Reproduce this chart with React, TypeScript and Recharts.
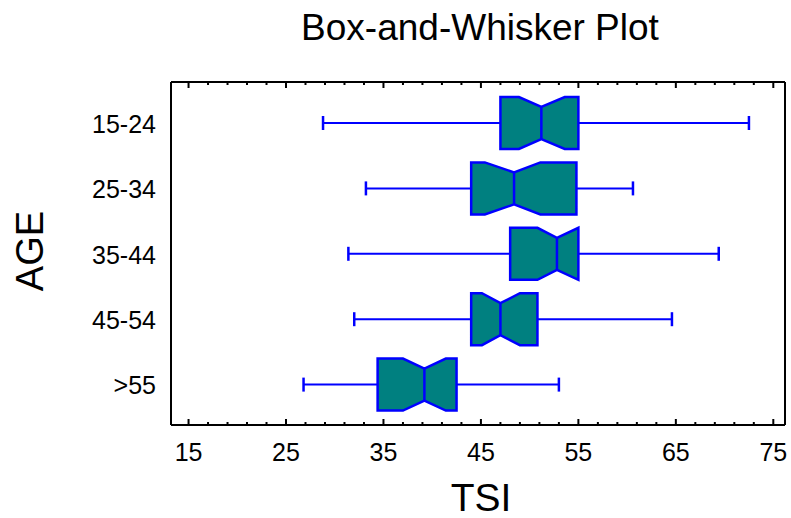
import { ComposedChart, Bar, XAxis, YAxis } from "recharts";

// TSI distribution per age group
const ages = ["15-24", "25-34", "35-44", "45-54", ">55"];
const whiskerLow = [28.8, 33.2, 31.4, 32.0, 26.8];
const q1 = [47.0, 44.0, 48.0, 44.0, 34.4];
const notchLow = [48.9, 45.4, 50.8, 45.1, 37.0];
const median = [51.2, 48.4, 52.8, 47.0, 39.2];
const notchHigh = [53.6, 51.1, 55.0, 49.0, 41.4];
const q3 = [55.0, 54.8, 55.0, 50.8, 42.5];
const whiskerHigh = [72.5, 60.6, 69.4, 64.6, 53.0];

const majorTicks = [15, 25, 35, 45, 55, 65, 75];
const minorTicks = [
  17, 19, 21, 23, 27, 29, 31, 33, 37, 39, 41, 43, 47, 49, 51, 53, 57, 59, 61,
  63, 67, 69, 71, 73,
];
const allTicks = [...majorTicks, ...minorTicks].sort((a, b) => a - b);

const data = ages.map((age, i) => ({
  age,
  lo: whiskerLow[i],
  q1: q1[i],
  nLo: notchLow[i],
  med: median[i],
  nHi: notchHigh[i],
  q3: q3[i],
  hi: whiskerHigh[i],
}));

const FONT = '"Liberation Sans", Arial, sans-serif';
const BLUE = "#0000FF";
const TEAL = "#008080";
const W = 791;
const H = 518;

// the bar spans the whisker range, so its x/width give the axis scale
function BoxShape(props: any) {
  const { x, y, width, height, payload } = props;
  const s = width / (payload.hi - payload.lo);
  const px = (v: number) => x + (v - payload.lo) * s;
  const cy = y + height / 2;
  const half = 26;
  const notch = 10;
  const cap = 7;
  const top = cy - half;
  const bot = cy + half;
  const pts = [
    [px(payload.q1), top],
    [px(payload.nLo), top],
    [px(payload.med), top + notch],
    [px(payload.nHi), top],
    [px(payload.q3), top],
    [px(payload.q3), bot],
    [px(payload.nHi), bot],
    [px(payload.med), bot - notch],
    [px(payload.nLo), bot],
    [px(payload.q1), bot],
  ]
    .map((p) => p.join(","))
    .join(" ");
  return (
    <g>
      <line x1={px(payload.lo)} x2={px(payload.q1)} y1={cy} y2={cy} stroke={BLUE} strokeWidth={2} />
      <line x1={px(payload.q3)} x2={px(payload.hi)} y1={cy} y2={cy} stroke={BLUE} strokeWidth={2} />
      <line x1={px(payload.lo)} x2={px(payload.lo)} y1={cy - cap} y2={cy + cap} stroke={BLUE} strokeWidth={2.5} />
      <line x1={px(payload.hi)} x2={px(payload.hi)} y1={cy - cap} y2={cy + cap} stroke={BLUE} strokeWidth={2.5} />
      <polygon points={pts} fill={TEAL} stroke={BLUE} strokeWidth={2.5} strokeLinejoin="miter" />
      <line
        x1={px(payload.med)}
        x2={px(payload.med)}
        y1={top + notch}
        y2={bot - notch}
        stroke={BLUE}
        strokeWidth={2.5}
      />
    </g>
  );
}

function BottomTick(props: any) {
  const { x, y, payload } = props;
  const major = majorTicks.includes(payload.value);
  return (
    <g>
      <line x1={x} x2={x} y1={y} y2={y - (major ? 6 : 3)} stroke="#000" strokeWidth={2} />
      {major && (
        <text x={x} y={y + 36} textAnchor="middle" fontSize={25} fontFamily={FONT} fill="#000">
          {payload.value}
        </text>
      )}
    </g>
  );
}

function TopTick(props: any) {
  const { x, y, payload } = props;
  const major = majorTicks.includes(payload.value);
  return <line x1={x} x2={x} y1={y} y2={y + (major ? 6 : 3)} stroke="#000" strokeWidth={2} />;
}

function AgeTick(props: any) {
  const { x, y, payload } = props;
  return (
    <text x={x - 15} y={y + 10} textAnchor="end" fontSize={25} fontFamily={FONT} fill="#000">
      {payload.value}
    </text>
  );
}

export default function App() {
  const frame = { stroke: "#000", strokeWidth: 2 };
  return (
    <div style={{ position: "absolute", left: 0, top: 0, width: W, height: H, background: "#fff" }}>
      <ComposedChart
        width={W}
        height={H}
        data={data}
        layout="vertical"
        margin={{ top: 72, right: 5, bottom: 63, left: 141 }}
      >
        <XAxis
          type="number"
          domain={[13.2, 76.2]}
          allowDataOverflow
          ticks={allTicks}
          interval={0}
          height={30}
          tickSize={0}
          tickMargin={0}
          axisLine={frame}
          tick={<BottomTick />}
        />
        <XAxis
          xAxisId="top"
          orientation="top"
          type="number"
          domain={[13.2, 76.2]}
          allowDataOverflow
          ticks={allTicks}
          interval={0}
          height={10}
          tickSize={0}
          tickMargin={0}
          axisLine={frame}
          tick={<TopTick />}
        />
        <YAxis
          type="category"
          dataKey="age"
          width={30}
          padding={{ top: 8, bottom: 8 }}
          tickSize={0}
          tickMargin={0}
          tickLine={false}
          axisLine={frame}
          tick={<AgeTick />}
        />
        <YAxis
          yAxisId="right"
          orientation="right"
          type="category"
          dataKey="age"
          width={1}
          tick={false}
          tickLine={false}
          axisLine={frame}
        />
        <Bar
          dataKey={(d: any) => [d.lo, d.hi]}
          barSize={52}
          shape={<BoxShape />}
          isAnimationActive={false}
        />
      </ComposedChart>
      <svg
        width={W}
        height={H}
        style={{ position: "absolute", left: 0, top: 0, pointerEvents: "none" }}
      >
        <text x={480} y={40} textAnchor="middle" fontSize={37} fontFamily={FONT} fill="#000">
          Box-and-Whisker Plot
        </text>
        <text
          x={0}
          y={0}
          transform="translate(43,251) rotate(-90)"
          textAnchor="middle"
          fontSize={38}
          fontFamily={FONT}
          fill="#000"
        >
          AGE
        </text>
        <text x={481} y={511} textAnchor="middle" fontSize={39} fontFamily={FONT} fill="#000">
          TSI
        </text>
      </svg>
    </div>
  );
}
